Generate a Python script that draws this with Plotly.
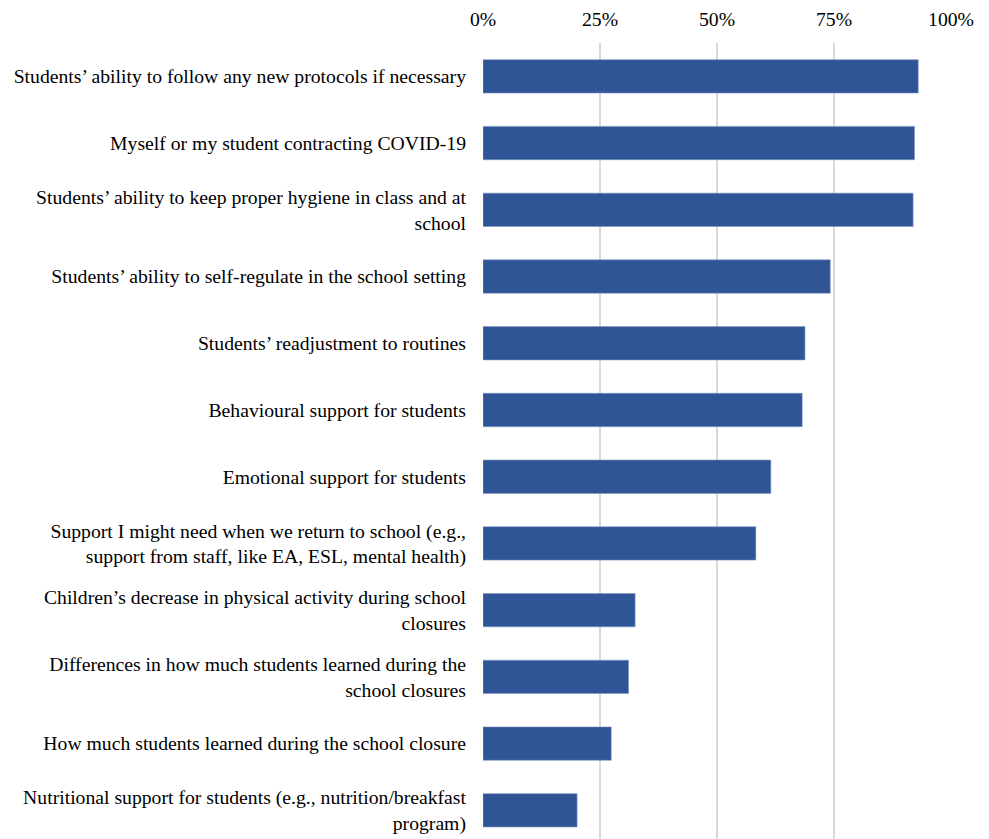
import plotly.graph_objects as go

# Survey concerns about returning to school, share of respondents
concerns = [
    "Students’ ability to follow any new protocols if necessary",
    "Myself or my student contracting COVID-19",
    "Students’ ability to keep proper hygiene in class and at<br>school",
    "Students’ ability to self-regulate in the school setting",
    "Students’ readjustment to routines",
    "Behavioural support for students",
    "Emotional support for students",
    "Support I might need when we return to school (e.g.,<br>support from staff, like EA, ESL, mental health)",
    "Children’s decrease in physical activity during school<br>closures",
    "Differences in how much students learned during the<br>school closures",
    "How much students learned during the school closure",
    "Nutritional support for students (e.g., nutrition/breakfast<br>program)",
]
shares = [0.93, 0.922, 0.919, 0.742, 0.688, 0.682, 0.615, 0.583, 0.325, 0.311, 0.274, 0.201]

tick_vals = [0, 0.25, 0.5, 0.75, 1.0]
tick_text = ["0%", "25%", "50%", "75%", "100%"]

fig = go.Figure(
    go.Bar(
        x=shares,
        y=list(range(len(concerns))),
        orientation="h",
        marker=dict(color="#2F5597", line=dict(color="#7F97C4", width=0.6)),
        width=0.5,
        hoverinfo="x+y",
    )
)

fig.update_layout(
    width=989,
    height=839,
    margin=dict(l=483, r=38, t=43, b=0),
    plot_bgcolor="white",
    paper_bgcolor="white",
    showlegend=False,
    font=dict(family="Liberation Serif, Times New Roman, serif", size=19.7, color="#000000"),
)

fig.update_xaxes(
    side="top",
    range=[0, 1],
    tickvals=tick_vals,
    ticktext=tick_text,
    showgrid=True,
    gridcolor="#D9D9D9",
    gridwidth=1.5,
    zeroline=False,
    showline=False,
    ticks="",
    ticklabelstandoff=12,
    tickfont=dict(size=19.7),
)

fig.update_yaxes(
    range=[11.43, -0.5],
    tickvals=list(range(len(concerns))),
    ticktext=concerns,
    showgrid=False,
    zeroline=False,
    showline=False,
    ticks="",
    ticklabelstandoff=16,
    tickfont=dict(size=19.7),
)

fig.write_html("out.html")
